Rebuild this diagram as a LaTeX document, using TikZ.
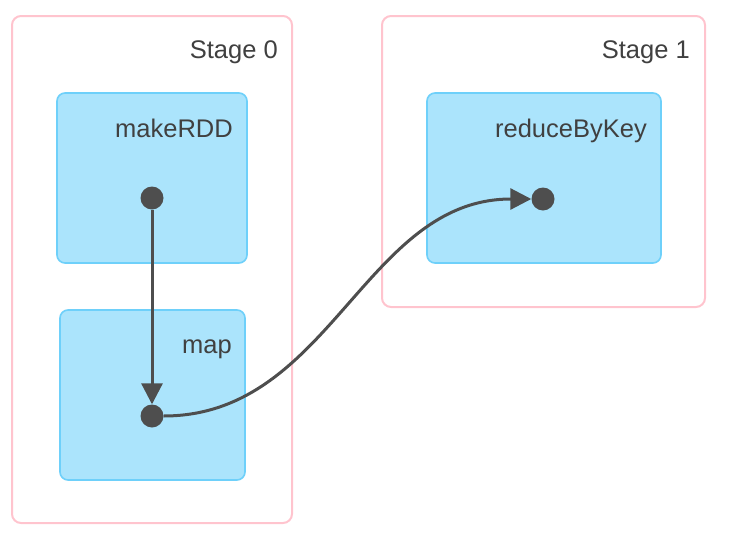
\documentclass[tikz,border=0pt]{standalone}
\usepackage{fontspec}
\setmainfont{Liberation Sans}
\usetikzlibrary{arrows.meta}
\definecolor{stagepink}{RGB}{255,196,206}
\definecolor{opfill}{RGB}{171,228,252}
\definecolor{opline}{RGB}{110,208,250}
\definecolor{dotgray}{RGB}{78,78,78}
\definecolor{txtgray}{RGB}{64,64,64}
\tikzset{
  stagebox/.style={draw=stagepink, line width=2pt, fill=white, rounded corners=9pt, inner sep=0pt},
  opbox/.style={draw=opline, line width=1.6pt, fill=opfill, rounded corners=8pt, inner sep=0pt},
  lbl/.style={font=\fontsize{25.5}{30}\selectfont, text=txtgray, inner sep=0pt, anchor=base east},
  dotnode/.style={circle, fill=dotgray, minimum size=23pt, inner sep=0pt},
  edge/.style={draw=dotgray, line width=3pt, -{Triangle[length=21pt,width=21pt]}}
}
\begin{document}
\begin{tikzpicture}[x=1pt,y=-1pt]
\useasboundingbox (0,0) rectangle (732,536);
% stages
\node[stagebox, minimum width=280pt, minimum height=507pt] (s0) at (152,269.5) {};
\node[stagebox, minimum width=323pt, minimum height=291pt] (s1) at (543.5,161.5) {};
% operation boxes
\node[opbox, minimum width=190pt, minimum height=170pt] (b1) at (152,178) {};
\node[opbox, minimum width=185pt, minimum height=170pt] (b2) at (152.5,395) {};
\node[opbox, minimum width=234pt, minimum height=170pt] (b3) at (544,178) {};
% labels
\node[lbl] (l0) at (278,58) {Stage 0};
\node[lbl] (l1) at (690,58) {Stage 1};
\node[lbl] (l2) at (233,137) {makeRDD};
\node[lbl] (l3) at (232,353) {map};
\node[lbl] (l4) at (647,137) {reduceByKey};
% dots
\node[dotnode] (d1) at (152,198) {};
\node[dotnode] (d2) at (152,416) {};
\node[dotnode] (d3) at (543,199) {};
% edges
\draw[edge] (d1) -- (d2);
\draw[edge] (d2) to[out=0,in=180] (d3);
\end{tikzpicture}
\end{document}
